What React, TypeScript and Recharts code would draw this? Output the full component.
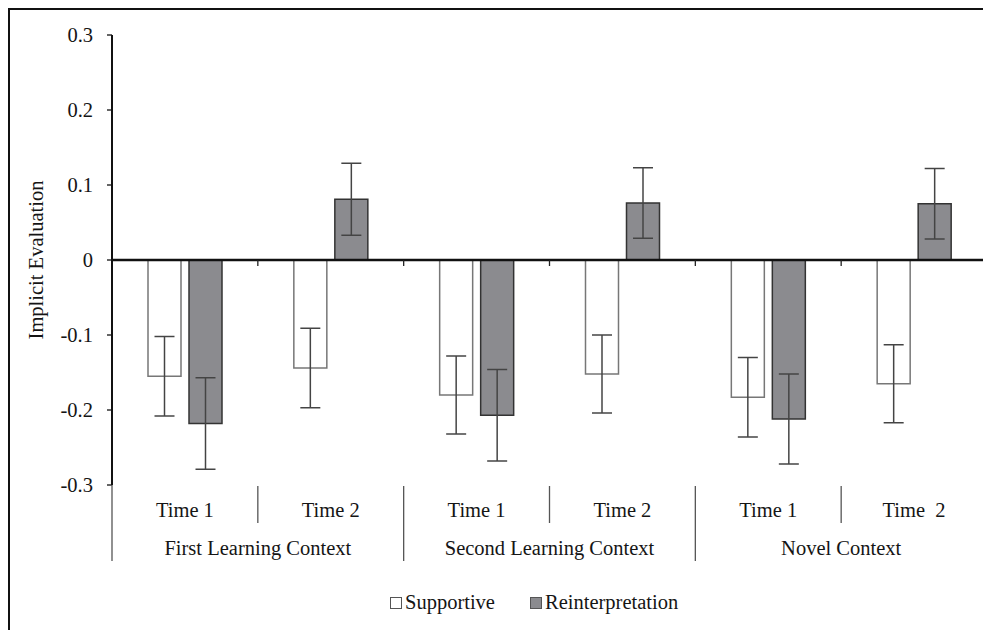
import React from 'react';
import { BarChart, Bar, XAxis, YAxis, ErrorBar, ReferenceLine } from 'recharts';

const timeLabels = ['Time 1', 'Time 2', 'Time 1', 'Time 2', 'Time 1', 'Time  2'];
const contextLabels = ['First Learning Context', 'Second Learning Context', 'Novel Context'];
const supportive = [-0.155, -0.144, -0.18, -0.152, -0.183, -0.165];
const supportiveErr = [0.053, 0.053, 0.052, 0.052, 0.053, 0.052];
const reinterpretation = [-0.218, 0.081, -0.207, 0.076, -0.212, 0.075];
const reinterpretationErr = [0.061, 0.048, 0.061, 0.047, 0.06, 0.047];
const yTicks = [-0.3, -0.2, -0.1, 0, 0.1, 0.2, 0.3];

const data = timeLabels.map((t, i) => ({
    id: String(i),
    supportive: supportive[i],
    supportiveErr: supportiveErr[i],
    reinterpretation: reinterpretation[i],
    reinterpretationErr: reinterpretationErr[i],
}));

const FONT = '"Liberation Serif", "Times New Roman", serif';
const TEXT = '#151515';
const W = 983;
const H = 622;
const MARGIN = { top: 27, right: 4, left: 0, bottom: 55 };
const Y_AXIS_W = 104;
const PLOT_H = 450;
const PLOT_W = W - MARGIN.right - Y_AXIS_W;
const BAND = PLOT_W / timeLabels.length;
const ZERO_Y = MARGIN.top + PLOT_H / 2;
const AXIS_BOTTOM = MARGIN.top + PLOT_H;

// x axis: time label, group label under each pair, and the separator lines
const CategoryTick = (props: any) => {
    const { x, index } = props;
    const i = typeof index === 'number' ? index : Number(props.payload?.value);
    const right = x + BAND / 2;
    const left = x - BAND / 2;
    const longSep = i % 2 === 1;
    return (
        <g>
            {i === 0 && (
                <line x1={left} x2={left} y1={AXIS_BOTTOM} y2={AXIS_BOTTOM + 76} stroke="#555" strokeWidth={1.3} />
            )}
            <line x1={right} x2={right} y1={ZERO_Y} y2={ZERO_Y + 6} stroke="#222" strokeWidth={1.3} />
            <line
                x1={right}
                x2={right}
                y1={AXIS_BOTTOM + 1}
                y2={AXIS_BOTTOM + (longSep ? 76 : 38)}
                stroke="#555"
                strokeWidth={1.3}
            />
            <text
                x={x}
                y={509}
                textAnchor="middle"
                fill={TEXT}
                style={{ fontFamily: FONT, fontSize: 20.5, whiteSpace: 'pre' }}
            >
                {timeLabels[i]}
            </text>
            {i % 2 === 0 && (
                <text x={right} y={547} textAnchor="middle" fill={TEXT} style={{ fontFamily: FONT, fontSize: 20.5 }}>
                    {contextLabels[i / 2]}
                </text>
            )}
        </g>
    );
};

const YLabel = () => {
    const cy = MARGIN.top + PLOT_H / 2;
    return (
        <text
            x={28}
            y={cy}
            transform={`rotate(-90 28 ${cy})`}
            textAnchor="middle"
            dominantBaseline="central"
            fill={TEXT}
            style={{ fontFamily: FONT, fontSize: 20.5 }}
        >
            Implicit Evaluation
        </text>
    );
};

const legendSquare = (fill: string): React.CSSProperties => ({
    display: 'inline-block',
    width: 10,
    height: 10,
    background: fill,
    border: '1px solid #555',
    marginRight: 3,
    verticalAlign: 'baseline',
});

const App: React.FC = () => {
    return (
        <div style={{ position: 'relative', width: W, height: H, fontFamily: FONT }}>
            <div
                style={{
                    position: 'absolute',
                    left: 0,
                    top: 0,
                    width: 979,
                    height: H,
                    borderTop: '2px solid #111',
                    borderLeft: '2px solid #111',
                    boxSizing: 'border-box',
                    pointerEvents: 'none',
                }}
            />
            <BarChart width={W} height={H} data={data} margin={MARGIN} barGap={8} barSize={33}>
                <XAxis dataKey="id" axisLine={false} tickLine={false} height={90} interval={0} tick={<CategoryTick />} />
                <YAxis
                    width={Y_AXIS_W}
                    domain={[-0.3, 0.3]}
                    ticks={yTicks}
                    allowDataOverflow
                    tickFormatter={(v: number) => (v === 0 ? '0' : String(v))}
                    axisLine={{ stroke: '#111', strokeWidth: 2 }}
                    tickLine={{ stroke: '#111', strokeWidth: 1.3 }}
                    tickSize={5}
                    tickMargin={14}
                    tick={{ fill: TEXT, fontSize: 20.5, fontFamily: FONT }}
                    label={<YLabel />}
                />
                <Bar dataKey="supportive" fill="#ffffff" stroke="#777" strokeWidth={1.5} isAnimationActive={false}>
                    <ErrorBar dataKey="supportiveErr" width={10} stroke="#444" strokeWidth={1.5} />
                </Bar>
                <Bar dataKey="reinterpretation" fill="#8b8b8f" stroke="#333" strokeWidth={1.5} isAnimationActive={false}>
                    <ErrorBar dataKey="reinterpretationErr" width={10} stroke="#444" strokeWidth={1.5} />
                </Bar>
                <ReferenceLine y={0} stroke="#111" strokeWidth={2.5} />
            </BarChart>
            <div
                style={{
                    position: 'absolute',
                    left: 382,
                    top: 582,
                    fontFamily: FONT,
                    fontSize: 20.5,
                    lineHeight: '24px',
                    color: TEXT,
                    whiteSpace: 'nowrap',
                }}
            >
                <span style={legendSquare('#ffffff')} />
                <span>Supportive</span>
                <span style={{ display: 'inline-block', width: 35 }} />
                <span style={legendSquare('#8b8b8f')} />
                <span>Reinterpretation</span>
            </div>
        </div>
    );
};

export default App;
